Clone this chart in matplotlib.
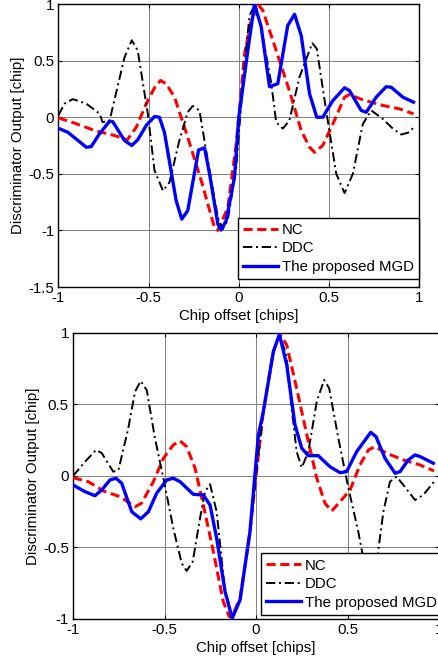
import matplotlib
matplotlib.use('Agg')
import matplotlib.pyplot as plt

plt.rcParams['font.family'] = ['Liberation Sans', 'DejaVu Sans']

# ---- top panel data ----
top_nc_x = [-1.0, -0.908, -0.798, -0.687, -0.618, -0.568, -0.513, -0.467, -0.434, -0.402, -0.356,
            -0.283, -0.208, -0.135, -0.116, -0.061, -0.014, 0.0, 0.032, 0.069, 0.105, 0.133, 0.207,
            0.28, 0.346, 0.392, 0.42, 0.465, 0.521, 0.586, 0.613, 0.687, 0.798, 0.89, 0.968]
top_nc_y = [-0.005, -0.053, -0.118, -0.162, -0.20, -0.088, 0.118, 0.26, 0.325, 0.295, 0.177,
            -0.177, -0.56, -0.973, -1.0, -0.80, -0.235, 0.0, 0.56, 0.856, 1.0, 0.944, 0.59,
            0.236, -0.118, -0.265, -0.31, -0.25, -0.06, 0.177, 0.20, 0.154, 0.104, 0.074, 0.03]

top_ddc_x = [-1.0, -0.965, -0.92, -0.845, -0.77, -0.755, -0.716, -0.633, -0.593, -0.56, -0.504,
             -0.467, -0.42, -0.384, -0.33, -0.283, -0.255, -0.218, -0.172, -0.116, -0.089, -0.061,
             -0.014, 0.03, 0.06, 0.078, 0.116, 0.18, 0.207, 0.244, 0.28, 0.336, 0.407, 0.432,
             0.484, 0.54, 0.586, 0.632, 0.687, 0.734, 0.798, 0.853, 0.90, 0.946, 0.968]
top_ddc_y = [0.015, 0.12, 0.16, 0.12, 0.03, -0.044, -0.03, 0.53, 0.68, 0.59, 0.03,
             -0.47, -0.65, -0.575, -0.21, 0.045, 0.10, 0.06, -0.38, -0.885, -0.99, -0.91,
             -0.44, 0.45, 0.90, 0.96, 0.856, 0.30, -0.044, -0.10, -0.03, 0.354, 0.655, 0.605,
             0.06, -0.50, -0.67, -0.50, -0.06, 0.06, -0.015, -0.10, -0.153, -0.133, -0.088]

top_mgd_x = [-1.0, -0.947, -0.845, -0.818, -0.772, -0.716, -0.698, -0.633, -0.593, -0.56, -0.513,
             -0.467, -0.44, -0.412, -0.347, -0.316, -0.283, -0.223, -0.19, -0.162, -0.116, -0.098,
             -0.07, -0.024, 0.0, 0.05, 0.087, 0.124, 0.17, 0.216, 0.271, 0.309, 0.346, 0.392,
             0.432, 0.465, 0.521, 0.586, 0.613, 0.678, 0.706, 0.761, 0.817, 0.844, 0.909, 0.968]
top_mgd_y = [-0.097, -0.133, -0.265, -0.26, -0.147, -0.035, -0.04, -0.206, -0.25, -0.20, -0.073,
             0.006, 0.0, -0.133, -0.737, -0.90, -0.826, -0.29, -0.27, -0.50, -0.944, -0.997,
             -0.914, -0.53, 0.0, 0.59, 1.0, 0.80, 0.27, 0.296, 0.81, 0.909, 0.72, 0.207,
             0.0, 0.0, 0.147, 0.26, 0.236, 0.06, 0.044, 0.177, 0.27, 0.265, 0.177, 0.133]

# ---- bottom panel data ----
bot_nc_x = [-1.0, -0.916, -0.834, -0.743, -0.661, -0.625, -0.561, -0.506, -0.452, -0.415, -0.379,
            -0.333, -0.288, -0.233, -0.179, -0.146, -0.13, -0.087, -0.033, 0.0, 0.04, 0.095,
            0.131, 0.168, 0.222, 0.286, 0.332, 0.377, 0.414, 0.459, 0.514, 0.568, 0.614, 0.65,
            0.714, 0.805, 0.896, 0.973]
bot_nc_y = [-0.012, -0.04, -0.105, -0.145, -0.215, -0.19, -0.04, 0.124, 0.217, 0.245, 0.205,
            0.054, -0.203, -0.529, -0.879, -0.984, -0.98, -0.855, -0.39, 0.0, 0.45, 0.87,
            0.99, 0.916, 0.613, 0.24, -0.016, -0.191, -0.245, -0.18, -0.098, 0.077, 0.182, 0.205,
            0.159, 0.112, 0.077, 0.035]

bot_ddc_x = [-1.0, -0.934, -0.874, -0.843, -0.78, -0.752, -0.698, -0.661, -0.63, -0.597, -0.552,
             -0.506, -0.452, -0.406, -0.379, -0.346, -0.306, -0.279, -0.251, -0.215, -0.17,
             -0.128, -0.087, -0.033, 0.0, 0.04, 0.095, 0.128, 0.165, 0.195, 0.222, 0.25, 0.286,
             0.332, 0.372, 0.40, 0.45, 0.505, 0.559, 0.59, 0.625, 0.66, 0.696, 0.732, 0.769,
             0.805, 0.869, 0.914, 0.973]
bot_ddc_y = [0.0, 0.10, 0.182, 0.16, 0.03, 0.04, 0.333, 0.59, 0.664, 0.60, 0.263,
             -0.016, -0.366, -0.611, -0.664, -0.60, -0.296, -0.11, -0.058, -0.25, -0.80,
             -0.98, -0.86, -0.39, 0.0, 0.45, 0.87, 0.99, 0.85, 0.473, 0.17, 0.058, 0.17,
             0.52, 0.671, 0.613, 0.263, -0.086, -0.39, -0.60, -0.67, -0.60, -0.25, -0.04, -0.005,
             -0.063, -0.168, -0.133, -0.04]

bot_mgd_x = [-1.0, -0.934, -0.88, -0.843, -0.798, -0.765, -0.734, -0.679, -0.63, -0.588, -0.543,
             -0.488, -0.452, -0.415, -0.343, -0.288, -0.251, -0.215, -0.169, -0.13, -0.087,
             -0.033, 0.013, 0.04, 0.095, 0.128, 0.168, 0.213, 0.25, 0.286, 0.34, 0.404, 0.459,
             0.495, 0.55, 0.627, 0.656, 0.705, 0.76, 0.787, 0.832, 0.869, 0.896, 0.969]
bot_mgd_y = [-0.063, -0.11, -0.138, -0.098, -0.028, -0.016, -0.051, -0.25, -0.30, -0.25, -0.121,
             -0.028, -0.016, -0.04, -0.128, -0.133, -0.203, -0.436, -0.809, -0.995, -0.867,
             -0.39, 0.287, 0.45, 0.87, 0.99, 0.776, 0.357, 0.194, 0.142, 0.142, 0.065, 0.023,
             0.03, 0.17, 0.305, 0.275, 0.124, 0.019, 0.03, 0.112, 0.147, 0.136, 0.089]

labels = ['NC', 'DDC', 'The proposed MGD']
xticks = [-1, -0.5, 0, 0.5, 1]
xtick_labels = ['-1', '-0.5', '0', '0.5', '1']

fs = 10.8

fig = plt.figure(figsize=(4.39, 6.63), dpi=100)
ax1 = fig.add_axes([0.1328, 0.5671, 0.8223, 0.4268])
ax2 = fig.add_axes([0.1663, 0.0664, 0.8337, 0.4314])


def draw(ax, nc, ddc, mgd, ylim, yticks, ytick_labels, leg_anchor):
    ax.plot(nc[0], nc[1], color='#ff0000', lw=2.2, dashes=(3, 1.5), label=labels[0], zorder=3)
    ax.plot(ddc[0], ddc[1], color='black', lw=1.4, dashes=(4.8, 1.9, 1.0, 1.9), label=labels[1], zorder=3)
    ax.plot(mgd[0], mgd[1], color='#0000ff', lw=2.4, label=labels[2], zorder=4)
    ax.set_xlim(-1, 1)
    ax.set_ylim(*ylim)
    ax.set_xticks(xticks)
    ax.set_xticklabels(xtick_labels, fontsize=fs)
    ax.set_yticks(yticks)
    ax.set_yticklabels(ytick_labels, fontsize=fs)
    ax.tick_params(direction='in', length=3, width=0.8, top=True, right=True, pad=3)
    ax.grid(True, color='0.5', lw=0.7)
    for s in ax.spines.values():
        s.set_linewidth(1.0)
    ax.set_xlabel('Chip offset [chips]', fontsize=fs, labelpad=3)
    ax.set_ylabel('Discriminator Output [chip]', fontsize=fs, labelpad=2)
    leg = ax.legend(loc='lower left', bbox_to_anchor=leg_anchor, borderaxespad=0,
                    fontsize=fs, fancybox=False, framealpha=1, edgecolor='black',
                    handlelength=2.3, handletextpad=0.25, labelspacing=0.3, borderpad=0.35)
    leg.get_frame().set_linewidth(1.0)
    leg.set_zorder(10)


draw(ax1, (top_nc_x, top_nc_y), (top_ddc_x, top_ddc_y), (top_mgd_x, top_mgd_y),
     (-1.5, 1), [-1.5, -1, -0.5, 0, 0.5, 1], ['-1.5', '-1', '-0.5', '0', '0.5', '1'],
     (0.498, 0.028))
draw(ax2, (bot_nc_x, bot_nc_y), (bot_ddc_x, bot_ddc_y), (bot_mgd_x, bot_mgd_y),
     (-1, 1), [-1, -0.5, 0, 0.5, 1], ['-1', '-0.5', '0', '0.5', '1'],
     (0.514, 0.014))

fig.savefig('out.png', dpi=100)
